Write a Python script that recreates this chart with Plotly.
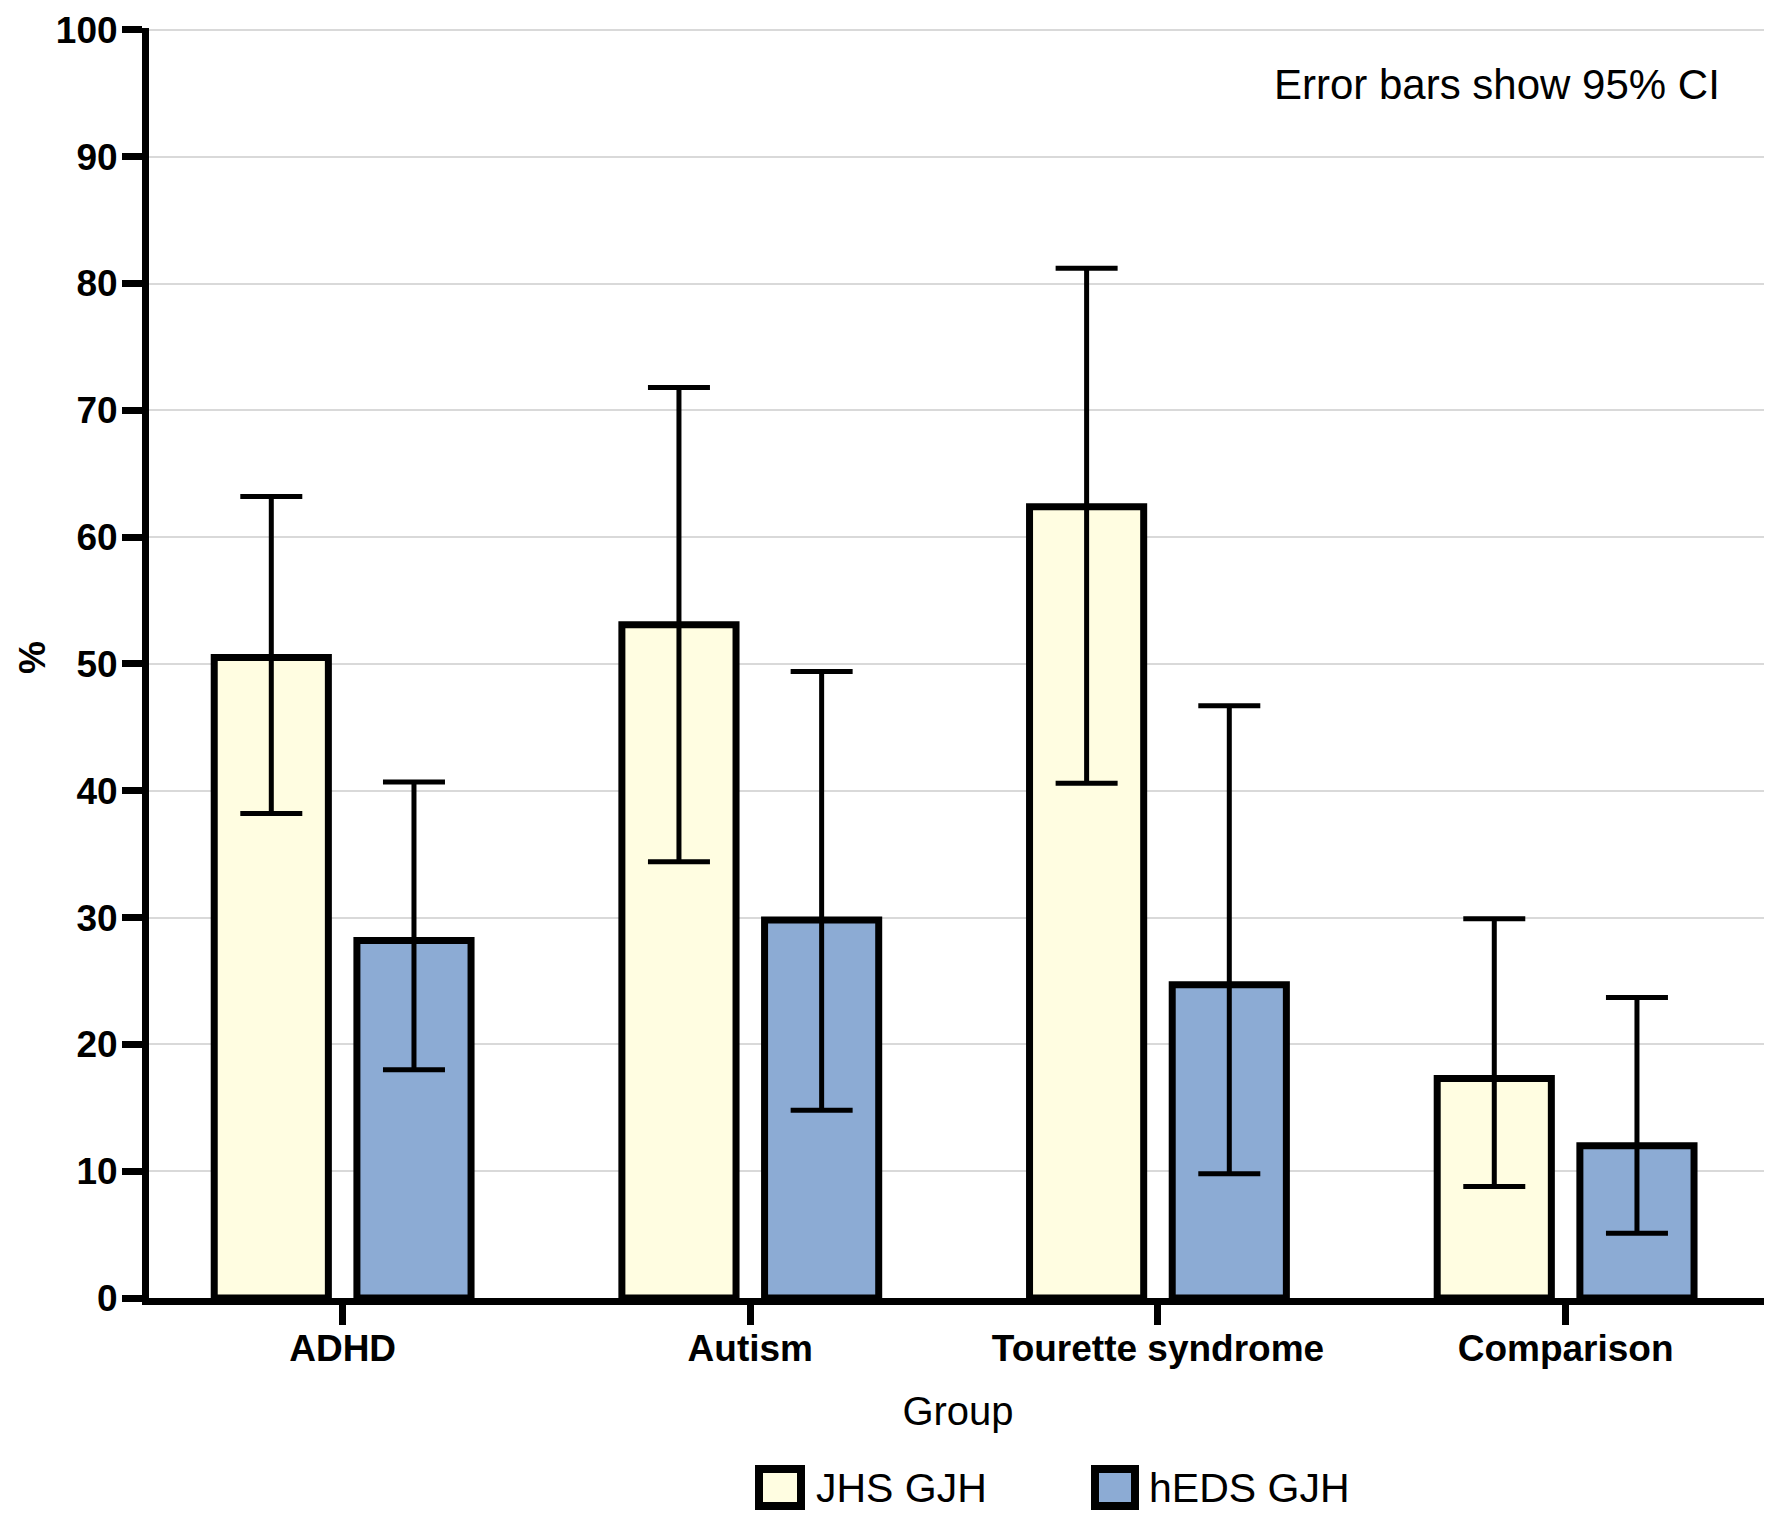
import plotly.graph_objects as go

# ---------------- data ----------------
categories = ["ADHD", "Autism", "Tourette syndrome", "Comparison"]
series_names = ["JHS GJH", "hEDS GJH"]

jhs_values = [50.5, 53.1, 62.4, 17.3]
jhs_ci_low = [38.2, 34.4, 40.6, 8.8]
jhs_ci_high = [63.2, 71.8, 81.2, 29.9]

heds_values = [28.2, 29.8, 24.7, 12.0]
heds_ci_low = [18.0, 14.8, 9.8, 5.1]
heds_ci_high = [40.7, 49.4, 46.7, 23.7]

y_tick_values = [0, 10, 20, 30, 40, 50, 60, 70, 80, 90, 100]

# ---------------- styles ----------------
JHS_COLOR = "#FFFDE1"
HEDS_COLOR = "#8CABD4"
FONT = "Liberation Sans, Arial, sans-serif"

OFF = 8  # page body margin
W, H = 1772, 1518
ML, MR, MT, MB = 141, 13, 20, 228
PW = W - ML - MR
PH = H - MT - MB


def px_x(px):
    return (px - OFF - ML) / PW


def px_y(py):
    return (H - MB - (py - OFF)) / PH


def err(vals, lo, hi):
    plus = [h - v for v, h in zip(vals, hi)]
    minus = [v - l for v, l in zip(vals, lo)]
    return plus, minus


fig = go.Figure()
for name, vals, lo, hi, color in [
    (series_names[0], jhs_values, jhs_ci_low, jhs_ci_high, JHS_COLOR),
    (series_names[1], heds_values, heds_ci_low, heds_ci_high, HEDS_COLOR),
]:
    plus, minus = err(vals, lo, hi)
    fig.add_trace(go.Bar(
        x=categories, y=vals, name=name, showlegend=False,
        marker=dict(color=color, line=dict(color="black", width=7)),
        error_y=dict(type="data", array=plus, arrayminus=minus, symmetric=False,
                     color="black", thickness=5, width=31),
    ))

fig.update_layout(
    width=W, height=H,
    margin=dict(l=ML, r=MR, t=MT, b=MB),
    plot_bgcolor="white", paper_bgcolor="white",
    barmode="group", bargap=0.3, bargroupgap=0.2,
    font=dict(family=FONT, color="black"),
    showlegend=False,
)

fig.update_xaxes(
    range=[-0.475, 3.494], automargin=False,
    showline=True, linecolor="black", linewidth=7,
    ticks="outside", ticklen=20, tickwidth=7, tickcolor="black",
    tickfont=dict(size=37, weight="bold", family=FONT, color="black"),
    ticklabelstandoff=-8,
    showgrid=False, zeroline=False,
    title=dict(text="Group", font=dict(size=40, family=FONT, color="black"), standoff=31),
)
fig.update_yaxes(
    range=[0, 100.15], automargin=False,
    tickvals=y_tick_values,
    showline=True, linecolor="black", linewidth=7,
    ticks="outside", ticklen=20, tickwidth=7, tickcolor="black",
    tickfont=dict(size=37, weight="bold", family=FONT, color="black"),
    ticklabeloverflow="allow", ticklabelstandoff=-3,
    showgrid=True, gridcolor="#D9D9D9", gridwidth=2,
    zeroline=False,
)

# y-axis title
fig.add_annotation(
    xref="paper", yref="paper", x=px_x(32), y=px_y(657),
    xanchor="center", yanchor="middle", showarrow=False, textangle=-90,
    text="<b>%</b>", font=dict(size=37, family=FONT, color="black"),
)

# annotation
fig.add_annotation(
    xref="paper", yref="paper", x=px_x(1722), y=px_y(85),
    xanchor="right", yanchor="middle", showarrow=False,
    text="Error bars show 95% CI", font=dict(size=42, family=FONT, color="black"),
)

# manual legend
legend_items = [
    (series_names[0], JHS_COLOR, 755, 805, 814),
    (series_names[1], HEDS_COLOR, 1091, 1139, 1147),
]
for name, color, x0, x1, tx in legend_items:
    fig.add_shape(
        type="rect", xref="paper", yref="paper",
        x0=px_x(x0 + 4), x1=px_x(x1 - 4), y0=px_y(1506), y1=px_y(1469),
        fillcolor=color, line=dict(color="black", width=8),
    )
    fig.add_annotation(
        xref="paper", yref="paper", x=px_x(tx), y=px_y(1488),
        xanchor="left", yanchor="middle", showarrow=False,
        text=name, font=dict(size=41, family=FONT, color="black"),
    )

fig.write_html("out.html")
